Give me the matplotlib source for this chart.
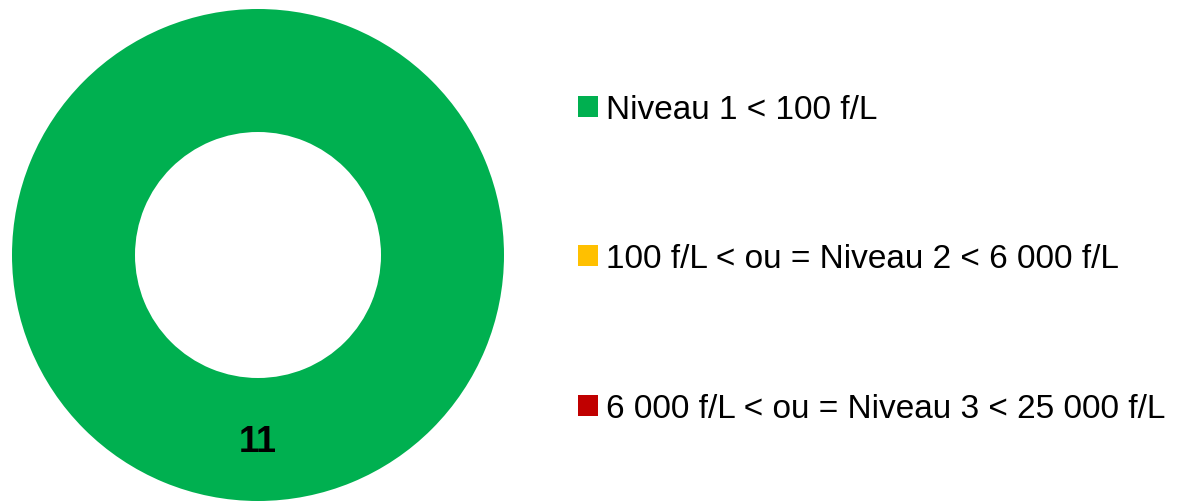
import matplotlib.pyplot as plt

# données
categories = ["Niveau 1 < 100 f/L",
              "100 f/L < ou = Niveau 2 < 6 000 f/L",
              "6 000 f/L < ou = Niveau 3 < 25 000 f/L"]
values = [11, 0, 0]
colors = ["#00B050", "#FFC000", "#C00000"]

W, H = 1180, 502
fig = plt.figure(figsize=(W / 100, H / 100), dpi=100)
plt.rcParams['font.family'] = ['Liberation Sans', 'DejaVu Sans']

# axe du donut (en pixels)
cx, cy, r = 258, 256, 246
ax = fig.add_axes([(cx - r) / W, (H - cy - r) / H, 2 * r / W, 2 * r / H])

total = sum(values)
wedges, texts, autotexts = ax.pie(
    values, colors=colors, startangle=90, counterclock=False, radius=1,
    wedgeprops=dict(width=0.5, edgecolor="none"),
    autopct=lambda p: f"{p * total / 100:.0f}" if p > 0 else "",
    pctdistance=0.76,
    textprops=dict(fontsize=26, fontweight="bold", color="black"))
ax.set_xlim(-1, 1)
ax.set_ylim(-1, 1)
ax.set_aspect("equal")

leg = fig.legend(wedges, categories, loc="center left",
                 bbox_to_anchor=(578 / W, (H - 260) / H),
                 frameon=False, fontsize=24, handlelength=0.6, handleheight=0.6,
                 handletextpad=0.25, labelspacing=3.55, borderpad=0, borderaxespad=0)

fig.savefig("out.png", dpi=100)
